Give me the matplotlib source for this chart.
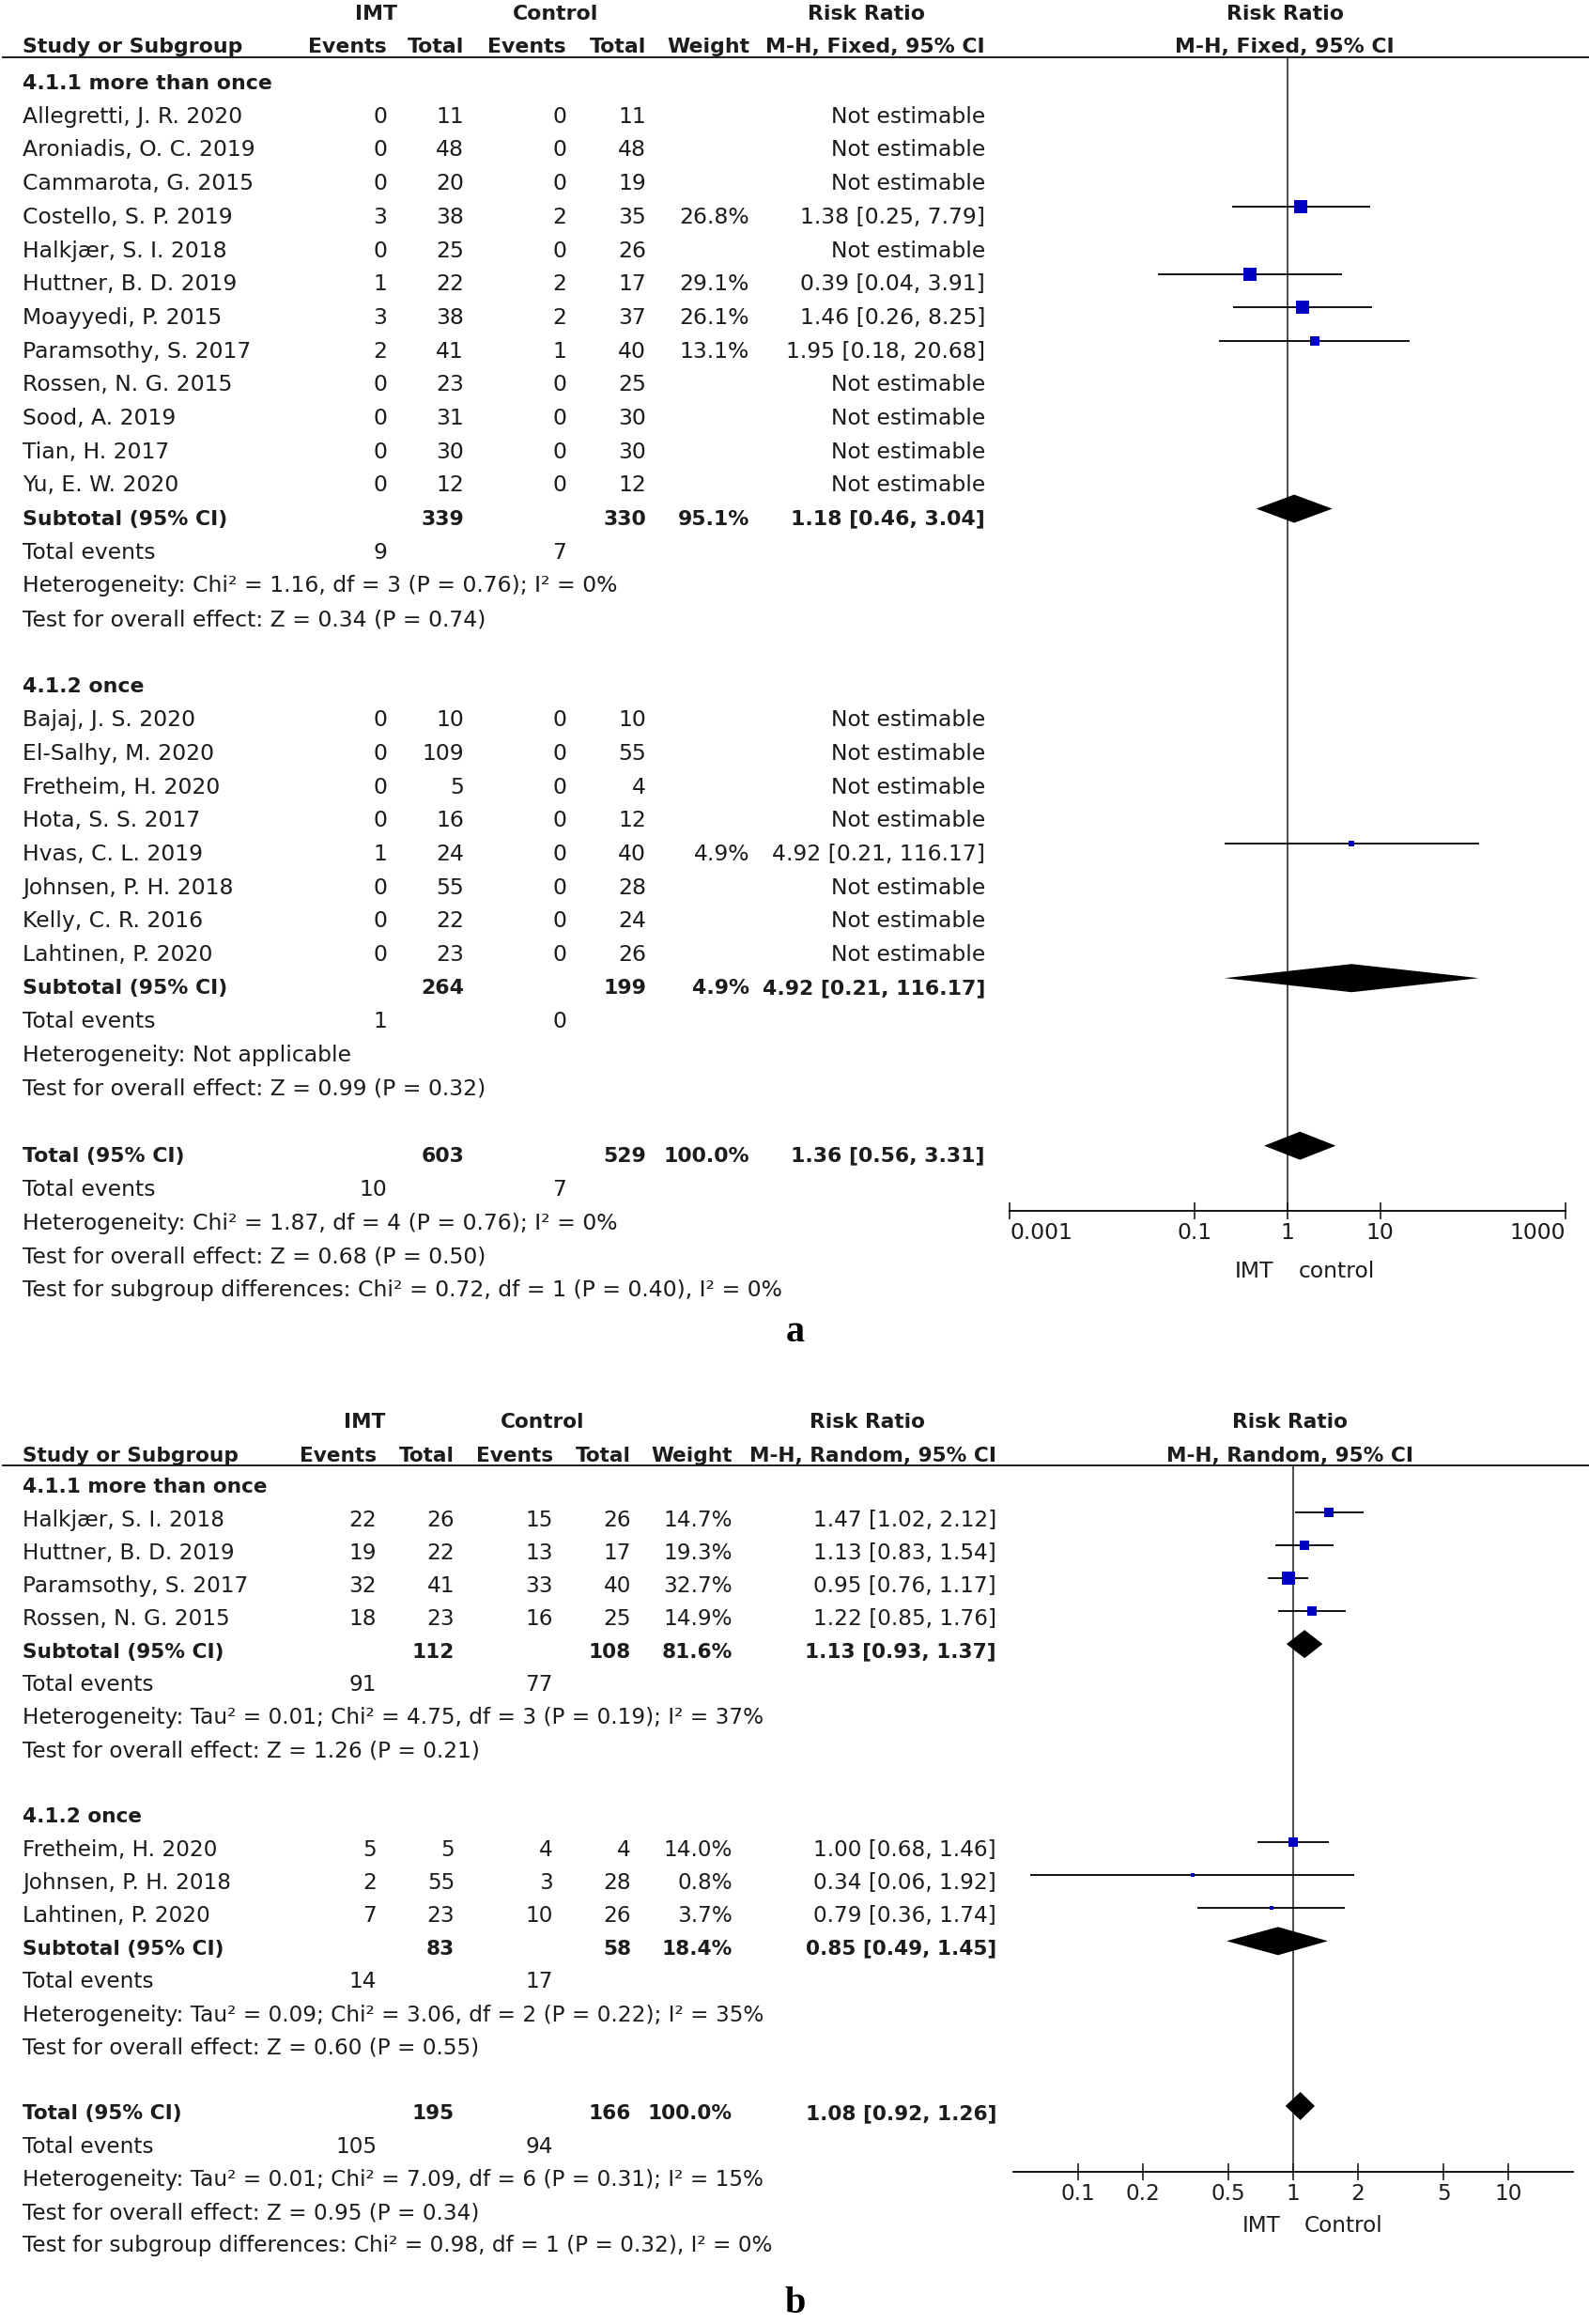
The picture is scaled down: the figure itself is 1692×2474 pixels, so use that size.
import matplotlib
matplotlib.use('Agg')
import numpy as np
import matplotlib.pyplot as plt

plt.rcParams['font.family'] = ['DejaVu Sans']

# ---------------- panel a data (fixed effect) ----------------
a_groups = ['4.1.1 more than once', '4.1.2 once']

a1_names = ['Allegretti, J. R. 2020', 'Aroniadis, O. C. 2019', 'Cammarota, G. 2015',
            'Costello, S. P. 2019', 'Halkjær, S. I. 2018', 'Huttner, B. D. 2019',
            'Moayyedi, P. 2015', 'Paramsothy, S. 2017', 'Rossen, N. G. 2015',
            'Sood, A. 2019', 'Tian, H. 2017', 'Yu, E. W. 2020']
a1_imt_ev = [0, 0, 0, 3, 0, 1, 3, 2, 0, 0, 0, 0]
a1_imt_n = [11, 48, 20, 38, 25, 22, 38, 41, 23, 31, 30, 12]
a1_ctl_ev = [0, 0, 0, 2, 0, 2, 2, 1, 0, 0, 0, 0]
a1_ctl_n = [11, 48, 19, 35, 26, 17, 37, 40, 25, 30, 30, 12]
a1_weight = [None, None, None, 26.8, None, 29.1, 26.1, 13.1, None, None, None, None]
a1_rr = [None, None, None, 1.38, None, 0.39, 1.46, 1.95, None, None, None, None]
a1_lo = [None, None, None, 0.25, None, 0.04, 0.26, 0.18, None, None, None, None]
a1_hi = [None, None, None, 7.79, None, 3.91, 8.25, 20.68, None, None, None, None]

a2_names = ['Bajaj, J. S. 2020', 'El-Salhy, M. 2020', 'Fretheim, H. 2020', 'Hota, S. S. 2017',
            'Hvas, C. L. 2019', 'Johnsen, P. H. 2018', 'Kelly, C. R. 2016', 'Lahtinen, P. 2020']
a2_imt_ev = [0, 0, 0, 0, 1, 0, 0, 0]
a2_imt_n = [10, 109, 5, 16, 24, 55, 22, 23]
a2_ctl_ev = [0, 0, 0, 0, 0, 0, 0, 0]
a2_ctl_n = [10, 55, 4, 12, 40, 28, 24, 26]
a2_weight = [None, None, None, None, 4.9, None, None, None]
a2_rr = [None, None, None, None, 4.92, None, None, None]
a2_lo = [None, None, None, None, 0.21, None, None, None]
a2_hi = [None, None, None, None, 116.17, None, None, None]

a_sub_imt_n = [339, 264]
a_sub_ctl_n = [330, 199]
a_sub_weight = [95.1, 4.9]
a_sub_rr = [1.18, 4.92]
a_sub_lo = [0.46, 0.21]
a_sub_hi = [3.04, 116.17]
a_sub_imt_ev = [9, 1]
a_sub_ctl_ev = [7, 0]
a_sub_het = ['Heterogeneity: Chi² = 1.16, df = 3 (P = 0.76); I² = 0%',
             'Heterogeneity: Not applicable']
a_sub_test = ['Test for overall effect: Z = 0.34 (P = 0.74)',
              'Test for overall effect: Z = 0.99 (P = 0.32)']
a_tot = [603, 529, 100.0, 1.36, 0.56, 3.31]
a_tot_ev = [10, 7]
a_tot_notes = ['Heterogeneity: Chi² = 1.87, df = 4 (P = 0.76); I² = 0%',
               'Test for overall effect: Z = 0.68 (P = 0.50)',
               'Test for subgroup differences: Chi² = 0.72, df = 1 (P = 0.40), I² = 0%']
a_ticks = [0.001, 0.1, 1, 10, 1000]
a_ticklabels = ['0.001', '0.1', '1', '10', '1000']

# ---------------- panel b data (random effects) ----------------
b_groups = ['4.1.1 more than once', '4.1.2 once']

b1_names = ['Halkjær, S. I. 2018', 'Huttner, B. D. 2019', 'Paramsothy, S. 2017', 'Rossen, N. G. 2015']
b1_imt_ev = [22, 19, 32, 18]
b1_imt_n = [26, 22, 41, 23]
b1_ctl_ev = [15, 13, 33, 16]
b1_ctl_n = [26, 17, 40, 25]
b1_weight = [14.7, 19.3, 32.7, 14.9]
b1_rr = [1.47, 1.13, 0.95, 1.22]
b1_lo = [1.02, 0.83, 0.76, 0.85]
b1_hi = [2.12, 1.54, 1.17, 1.76]

b2_names = ['Fretheim, H. 2020', 'Johnsen, P. H. 2018', 'Lahtinen, P. 2020']
b2_imt_ev = [5, 2, 7]
b2_imt_n = [5, 55, 23]
b2_ctl_ev = [4, 3, 10]
b2_ctl_n = [4, 28, 26]
b2_weight = [14.0, 0.8, 3.7]
b2_rr = [1.00, 0.34, 0.79]
b2_lo = [0.68, 0.06, 0.36]
b2_hi = [1.46, 1.92, 1.74]

b_sub_imt_n = [112, 83]
b_sub_ctl_n = [108, 58]
b_sub_weight = [81.6, 18.4]
b_sub_rr = [1.13, 0.85]
b_sub_lo = [0.93, 0.49]
b_sub_hi = [1.37, 1.45]
b_sub_imt_ev = [91, 14]
b_sub_ctl_ev = [77, 17]
b_sub_het = ['Heterogeneity: Tau² = 0.01; Chi² = 4.75, df = 3 (P = 0.19); I² = 37%',
             'Heterogeneity: Tau² = 0.09; Chi² = 3.06, df = 2 (P = 0.22); I² = 35%']
b_sub_test = ['Test for overall effect: Z = 1.26 (P = 0.21)',
              'Test for overall effect: Z = 0.60 (P = 0.55)']
b_tot = [195, 166, 100.0, 1.08, 0.92, 1.26]
b_tot_ev = [105, 94]
b_tot_notes = ['Heterogeneity: Tau² = 0.01; Chi² = 7.09, df = 6 (P = 0.31); I² = 15%',
               'Test for overall effect: Z = 0.95 (P = 0.34)',
               'Test for subgroup differences: Chi² = 0.98, df = 1 (P = 0.32), I² = 0%']
b_ticks = [0.1, 0.2, 0.5, 1, 2, 5, 10]
b_ticklabels = ['0.1', '0.2', '0.5', '1', '2', '5', '10']

INK = '#1c1c1c'
BLUE = '#0000c4'

W, H = 1692, 2474
fig = plt.figure(figsize=(W / 100, H / 100), dpi=100)
fig.patch.set_facecolor('white')
renderer = fig.canvas.get_renderer()


def box(x0, y0, x1, y1):
    return fig.add_axes([x0 / W, 1 - y1 / H, (x1 - x0) / W, (y1 - y0) / H])


def fit(s, target, weight='normal'):
    t = fig.text(0, 0, s, fontsize=20, fontweight=weight)
    w = t.get_window_extent(renderer=renderer).width
    t.remove()
    return 20 * target / w


def fmt_ci(rr, lo, hi):
    return f'{rr:.2f} [{lo:.2f}, {hi:.2f}]'


def draw_panel(P):
    y = lambda i: P['r0'] + P['step'] * i
    ax = box(0, P['top'], W, P['bottom'])
    ax.set_xlim(0, W)
    ax.set_ylim(P['bottom'], P['top'])
    ax.axis('off')

    fx = box(P['fx0'], P['line_y'], P['fx1'], P['axis_y'])
    fx.set_xscale('log')
    fx.set_xlim(*P['lim'])
    fx.set_ylim(P['axis_y'], P['line_y'])
    fx.patch.set_alpha(0)
    for s in ['left', 'right', 'top']:
        fx.spines[s].set_visible(False)
    fx.spines['bottom'].set_linewidth(1.3)
    fx.set_yticks([])
    fx.xaxis.set_minor_locator(matplotlib.ticker.NullLocator())
    fx.set_xticks(P['ticks'])
    fx.set_xticklabels(P['ticklabels'])
    fx.tick_params(axis='x', direction='inout', length=13.5, width=1.2,
                   labelsize=P['fs'], pad=2, colors=INK)
    if P['edge_align']:
        labs = fx.get_xticklabels()
        labs[0].set_horizontalalignment('left')
        labs[-1].set_horizontalalignment('right')
    fx.axvline(1, color=INK, lw=1.1, zorder=1)

    c = P['cols']
    fs, fb = P['fs'], P['fb']
    off = P['off']
    k_side = P['k_side']

    def txt(x, yy, s, ha='left', bold=False):
        ax.text(x, yy, s, ha=ha, va='center', color=INK,
                fontsize=fb if bold else fs,
                fontweight='bold' if bold else 'normal')

    def diamond(rr, lo, hi, yy):
        h = P['dia_h'] / 2
        fx.fill([lo, rr, hi, rr], [yy, yy - h, yy, yy + h], color='black', lw=0, zorder=3)

    # header
    yh1, yh2 = P['h1'], P['h2']
    txt(c['imt_c'], yh1, 'IMT', 'center', True)
    txt(c['ctl_c'], yh1, 'Control', 'center', True)
    txt(c['rr_c'], yh1, 'Risk Ratio', 'center', True)
    txt(c['plot_c'], yh1, 'Risk Ratio', 'center', True)
    txt(c['name'], yh2, 'Study or Subgroup', 'left', True)
    txt(c['e1'], yh2, 'Events', 'right', True)
    txt(c['n1'], yh2, 'Total', 'right', True)
    txt(c['e2'], yh2, 'Events', 'right', True)
    txt(c['n2'], yh2, 'Total', 'right', True)
    txt(c['w'], yh2, 'Weight', 'right', True)
    txt(c['ci'], yh2, P['method'], 'right', True)
    txt(c['plot_c'], yh2, P['method'], 'center', True)
    ax.axhline(P['line_y'], xmin=3 / W, xmax=1, color=INK, lw=1.4)

    i = 0
    for g, grp in enumerate(P['groups']):
        txt(c['name'], y(i), grp['label'], bold=True)
        i += 1
        for k, name in enumerate(grp['names']):
            yy = y(i)
            txt(c['name'], yy, name)
            txt(c['e1'], yy, str(grp['e1'][k]), 'right')
            txt(c['n1'], yy, str(grp['n1'][k]), 'right')
            txt(c['e2'], yy, str(grp['e2'][k]), 'right')
            txt(c['n2'], yy, str(grp['n2'][k]), 'right')
            wt = grp['w'][k]
            if wt is None:
                txt(c['ci'], yy, 'Not estimable', 'right')
            else:
                rr, lo, hi = grp['rr'][k], grp['lo'][k], grp['hi'][k]
                txt(c['w'], yy, f'{wt:.1f}%', 'right')
                txt(c['ci'], yy, fmt_ci(rr, lo, hi), 'right')
                fx.plot([lo, hi], [yy - off, yy - off], color='black', lw=1.3,
                        solid_capstyle='butt', zorder=2)
                side = max(k_side * np.sqrt(wt), 4.0) * 0.72
                fx.scatter([rr], [yy - off], marker='s', s=side ** 2, color=BLUE,
                           linewidths=0, zorder=4)
            i += 1
        S = P['sub']
        yy = y(i)
        txt(c['name'], yy, 'Subtotal (95% CI)', bold=True)
        txt(c['n1'], yy, str(S['n1'][g]), 'right', True)
        txt(c['n2'], yy, str(S['n2'][g]), 'right', True)
        txt(c['w'], yy, f"{S['w'][g]:.1f}%", 'right', True)
        txt(c['ci'], yy, fmt_ci(S['rr'][g], S['lo'][g], S['hi'][g]), 'right', True)
        diamond(S['rr'][g], S['lo'][g], S['hi'][g], yy - off)
        i += 1
        txt(c['name'], y(i), 'Total events')
        txt(c['e1'], y(i), str(S['e1'][g]), 'right')
        txt(c['e2'], y(i), str(S['e2'][g]), 'right')
        i += 1
        txt(c['name'], y(i), S['het'][g])
        i += 1
        txt(c['name'], y(i), S['test'][g])
        i += 2

    T = P['tot']
    yy = y(i)
    txt(c['name'], yy, 'Total (95% CI)', bold=True)
    txt(c['n1'], yy, str(T[0]), 'right', True)
    txt(c['n2'], yy, str(T[1]), 'right', True)
    txt(c['w'], yy, f'{T[2]:.1f}%', 'right', True)
    txt(c['ci'], yy, fmt_ci(T[3], T[4], T[5]), 'right', True)
    diamond(T[3], T[4], T[5], yy - off)
    i += 1
    txt(c['name'], y(i), 'Total events')
    txt(c['e1'], y(i), str(P['tot_ev'][0]), 'right')
    txt(c['e2'], y(i), str(P['tot_ev'][1]), 'right')
    i += 1
    for note in P['notes']:
        txt(c['name'], y(i), note)
        i += 1

    # favours labels
    txt(c['fav_l'], P['fav_y'], 'IMT', 'right')
    txt(c['fav_r'], P['fav_y'], P['fav_text'], 'left')
    ax.text(847, P['letter_y'], P['letter'], ha='center', va='baseline',
            fontsize=29, fontweight='bold', family=['Liberation Serif', 'DejaVu Serif'],
            color='black')


fs_a = fit(a_tot_notes[2], 808)
fb_a = fit('Study or Subgroup', 234, 'bold')

panel_a = dict(
    r0=88.6, step=35.69, top=0, bottom=1440, line_y=61, axis_y=1289,
    fx0=1075, fx1=1667, lim=(0.001, 1000), ticks=a_ticks, ticklabels=a_ticklabels,
    edge_align=True,
    h1=15, h2=50, off=11, dia_h=30, k_side=2.6, fs=fs_a, fb=fb_a,
    method='M-H, Fixed, 95% CI',
    cols=dict(name=24, e1=412, n1=494, e2=603, n2=688, w=798, ci=1049,
              imt_c=400, ctl_c=592, rr_c=923, plot_c=1368, fav_l=1356, fav_r=1383),
    groups=[dict(label=a_groups[0], names=a1_names, e1=a1_imt_ev, n1=a1_imt_n,
                 e2=a1_ctl_ev, n2=a1_ctl_n, w=a1_weight, rr=a1_rr, lo=a1_lo, hi=a1_hi),
            dict(label=a_groups[1], names=a2_names, e1=a2_imt_ev, n1=a2_imt_n,
                 e2=a2_ctl_ev, n2=a2_ctl_n, w=a2_weight, rr=a2_rr, lo=a2_lo, hi=a2_hi)],
    sub=dict(n1=a_sub_imt_n, n2=a_sub_ctl_n, w=a_sub_weight, rr=a_sub_rr, lo=a_sub_lo,
             hi=a_sub_hi, e1=a_sub_imt_ev, e2=a_sub_ctl_ev, het=a_sub_het, test=a_sub_test),
    tot=a_tot, tot_ev=a_tot_ev, notes=a_tot_notes,
    fav_y=1354, fav_text='control', letter='a', letter_y=1428,
)

fs_b = fs_a * 0.984
fb_b = fb_a * 0.984

panel_b = dict(
    r0=1583, step=35.13, top=1440, bottom=H, line_y=1559.5, axis_y=2312,
    fx0=1079, fx1=1675, lim=(0.05, 20), ticks=b_ticks, ticklabels=b_ticklabels,
    edge_align=False,
    h1=1514, h2=1550, off=8.5, dia_h=30, k_side=2.5, fs=fs_b, fb=fb_b,
    method='M-H, Random, 95% CI',
    cols=dict(name=24, e1=401, n1=484, e2=589, n2=672, w=780, ci=1061,
              imt_c=388, ctl_c=578, rr_c=923, plot_c=1373, fav_l=1364, fav_r=1389),
    groups=[dict(label=b_groups[0], names=b1_names, e1=b1_imt_ev, n1=b1_imt_n,
                 e2=b1_ctl_ev, n2=b1_ctl_n, w=b1_weight, rr=b1_rr, lo=b1_lo, hi=b1_hi),
            dict(label=b_groups[1], names=b2_names, e1=b2_imt_ev, n1=b2_imt_n,
                 e2=b2_ctl_ev, n2=b2_ctl_n, w=b2_weight, rr=b2_rr, lo=b2_lo, hi=b2_hi)],
    sub=dict(n1=b_sub_imt_n, n2=b_sub_ctl_n, w=b_sub_weight, rr=b_sub_rr, lo=b_sub_lo,
             hi=b_sub_hi, e1=b_sub_imt_ev, e2=b_sub_ctl_ev, het=b_sub_het, test=b_sub_test),
    tot=b_tot, tot_ev=b_tot_ev, notes=b_tot_notes,
    fav_y=2370, fav_text='Control', letter='b', letter_y=2462,
)

draw_panel(panel_a)
draw_panel(panel_b)

fig.savefig('out.png', dpi=100, facecolor='white')
